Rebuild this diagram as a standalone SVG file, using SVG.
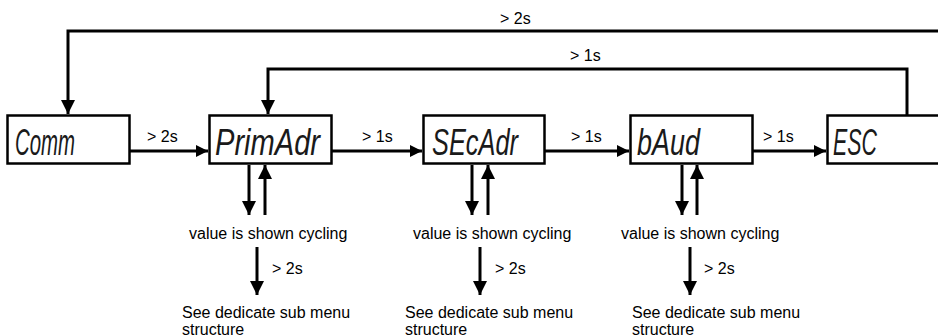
<svg xmlns="http://www.w3.org/2000/svg" width="938" height="336" viewBox="0 0 938 336">
<style>
.box{fill:#fff;stroke:#000;stroke-width:2.5}
.ln{fill:none;stroke:#000;stroke-width:3}
.lbl{font-family:"Liberation Sans",Arial,sans-serif;font-size:16px;fill:#000}
.disp{font-family:"Liberation Sans",Arial,sans-serif;font-size:37px;font-style:italic;fill:#1a1a1a}
</style>
<defs>
<marker id="ah" viewBox="0 0 12 12" refX="12" refY="6" markerWidth="12" markerHeight="12" markerUnits="userSpaceOnUse" orient="auto">
<path d="M0,0 L12,6 L0,12 Z" fill="#000"/>
</marker>
<marker id="ahb" viewBox="0 0 14 14" refX="14" refY="7" markerWidth="14" markerHeight="15" markerUnits="userSpaceOnUse" orient="auto">
<path d="M0,0 L14,7 L0,14 Z" fill="#000"/>
</marker>
</defs>
<g id="connectors">
<path class="ln" d="M938,31 H68 V114" marker-end="url(#ahb)"/>
<path class="ln" d="M907,115 V69 H268 V114" marker-end="url(#ahb)"/>
<path class="ln" d="M130,151 H208" marker-end="url(#ah)"/>
<path class="ln" d="M332,151 H422" marker-end="url(#ah)"/>
<path class="ln" d="M545,151 H629" marker-end="url(#ah)"/>
<path class="ln" d="M753,151 H826" marker-end="url(#ah)"/>
<path class="ln" d="M249,165 V215" marker-end="url(#ahb)"/>
<path class="ln" d="M265,215 V165" marker-end="url(#ahb)"/>
<path class="ln" d="M257,247 V295" marker-end="url(#ahb)"/>
<path class="ln" d="M472,165 V215" marker-end="url(#ahb)"/>
<path class="ln" d="M488,215 V165" marker-end="url(#ahb)"/>
<path class="ln" d="M480,247 V295" marker-end="url(#ahb)"/>
<path class="ln" d="M682,165 V215" marker-end="url(#ahb)"/>
<path class="ln" d="M697,215 V165" marker-end="url(#ahb)"/>
<path class="ln" d="M690,247 V295" marker-end="url(#ahb)"/>
<text class="lbl" x="500" y="24">&gt; 2s</text>
<text class="lbl" x="570" y="61">&gt; 1s</text>
<text class="lbl" x="147" y="142">&gt; 2s</text>
<text class="lbl" x="362" y="142">&gt; 1s</text>
<text class="lbl" x="571" y="142">&gt; 1s</text>
<text class="lbl" x="763" y="142">&gt; 1s</text>
<text class="lbl" x="272" y="274">&gt; 2s</text>
<text class="lbl" x="495" y="274">&gt; 2s</text>
<text class="lbl" x="704" y="274">&gt; 2s</text>
</g>
<g id="comm">
<rect class="box" x="7.5" y="115.5" width="122" height="48"/>
<text class="disp" x="15" y="155" textLength="60" lengthAdjust="spacingAndGlyphs">Comm</text>
</g>
<g id="primadr">
<rect class="box" x="209.5" y="115.5" width="122" height="48"/>
<text class="disp" x="215" y="155" textLength="105" lengthAdjust="spacingAndGlyphs">PrimAdr</text>
</g>
<g id="secadr">
<rect class="box" x="423.5" y="115.5" width="121" height="48"/>
<text class="disp" x="432" y="155" textLength="86" lengthAdjust="spacingAndGlyphs">SEcAdr</text>
</g>
<g id="baud">
<rect class="box" x="630.5" y="115.5" width="122" height="48"/>
<text class="disp" x="637" y="155" textLength="63" lengthAdjust="spacingAndGlyphs">bAud</text>
</g>
<g id="esc">
<rect class="box" x="827.5" y="115.5" width="125" height="48"/>
<text class="disp" x="833" y="155" textLength="44" lengthAdjust="spacingAndGlyphs">ESC</text>
</g>
<g id="primadr-value">
<text class="lbl" x="189" y="238.5">value is shown cycling</text>
<text class="lbl" x="182" y="317.5">See dedicate sub menu</text>
<text class="lbl" x="182" y="334.5">structure</text>
</g>
<g id="secadr-value">
<text class="lbl" x="413" y="238.5">value is shown cycling</text>
<text class="lbl" x="405" y="317.5">See dedicate sub menu</text>
<text class="lbl" x="405" y="334.5">structure</text>
</g>
<g id="baud-value">
<text class="lbl" x="621" y="238.5">value is shown cycling</text>
<text class="lbl" x="632" y="317.5">See dedicate sub menu</text>
<text class="lbl" x="632" y="334.5">structure</text>
</g>
</svg>
